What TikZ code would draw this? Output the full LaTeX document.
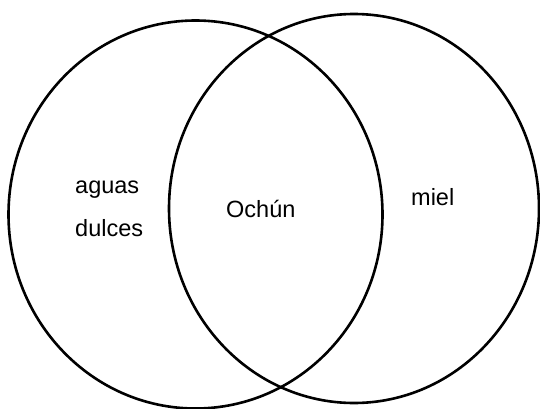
\documentclass[tikz,border=0pt]{standalone}
\usepackage{fontspec}
\setmainfont{Liberation Sans}
\begin{document}
\begin{tikzpicture}[x=1pt,y=-1pt,
  ring/.style={draw=black,line width=2.6pt},
  lbl/.style={font=\fontsize{23.5}{28}\selectfont,inner sep=0pt,anchor=base west}]
\path[use as bounding box] (0,0) rectangle (540,409);
\draw[ring] (195.5,214.5) ellipse[x radius=187,y radius=194];
\draw[ring] (354,208.5) ellipse[x radius=185,y radius=194.5];
\node[lbl] (a) at (75,193) {aguas};
\node[lbl] (d) at (75,236) {dulces};
\node[lbl] (o) at (226,217) {Ochún};
\node[lbl] (m) at (411,205) {miel};
\end{tikzpicture}
\end{document}
